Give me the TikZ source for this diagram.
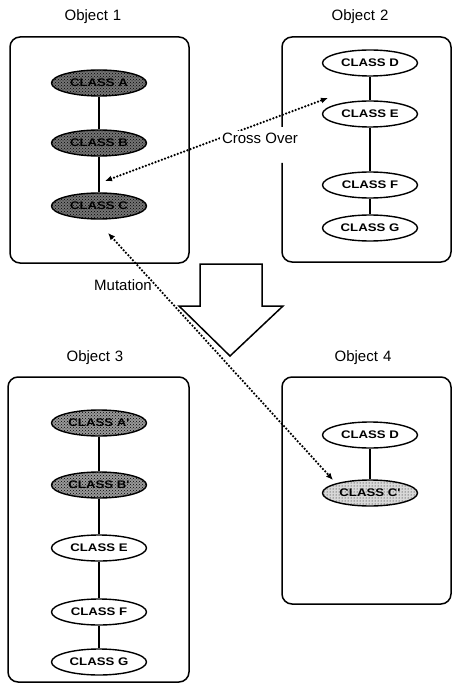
\documentclass[tikz,border=0pt]{standalone}
\usepackage{fontspec}
\setmainfont{Liberation Sans}
\newfontfamily\clsfont{Liberation Sans}[FakeStretch=1.2]
\usetikzlibrary{shapes.geometric,arrows.meta,patterns}
\tikzset{
  objbox/.style={line width=1.5pt, rounded corners=10pt},
  cls/.style={ellipse, draw, line width=1.4pt, minimum width=95pt, minimum height=26pt,
    inner sep=0pt, fill=white, font=\clsfont\bfseries\fontsize{11}{13}\selectfont},
  darkcls/.style={cls, preaction={fill=black!55}, pattern=crosshatch dots, pattern color=black},
  midcls/.style={cls, preaction={fill=black!40}, pattern=crosshatch dots, pattern color=black},
  lightcls/.style={cls, preaction={fill=black!15}, pattern=dots, pattern color=black},
  link/.style={line width=1.4pt},
  lab/.style={font=\fontsize{15}{17}\selectfont, inner sep=1pt},
  dotline/.style={line width=2.5pt, dash pattern=on 0pt off 3.4pt, line cap=round,
    {Latex[length=7pt,width=6pt]}-{Latex[length=7pt,width=6pt]}},
  bigarrow/.style={line width=1.5pt, fill=white, line join=miter}
}
\begin{document}
\begin{tikzpicture}[x=1pt,y=-1pt]
\useasboundingbox (0,0) rectangle (453,684);
% boxes
\draw[objbox] (10,37) rectangle (189,263);
\draw[objbox] (282,127) -- (282,37) -- (451,37) -- (451,262) -- (282,262) -- (282,163);
\draw[objbox] (8,377) rectangle (189,682);
\draw[objbox] (282,377) rectangle (451,604);
% titles
\node[lab] (t1) at (93,17) {Object\hspace{5pt}1};
\node[lab] (t2) at (360,17) {Object\hspace{5pt}2};
\node[lab] (t3) at (95,358) {Object\hspace{5pt}3};
\node[lab] (t4) at (363,358) {Object\hspace{5pt}4};
% object 1
\node[darkcls] (a1) at (99,83) {CLASS A};
\node[darkcls] (b1) at (99,143) {CLASS B};
\node[darkcls] (c1) at (99,206) {CLASS C};
\draw[link] (a1) -- (b1);
\draw[link] (b1) -- (c1);
% object 2
\node[cls] (d2) at (370,63) {CLASS D};
\node[cls] (e2) at (370,114) {CLASS E};
\node[cls] (f2) at (370,185) {CLASS F};
\node[cls] (g2) at (370,228) {CLASS G};
\draw[link] (d2) -- (e2);
\draw[link] (e2) -- (f2);
\draw[link] (f2) -- (g2);
% object 3
\node[midcls] (a3) at (99,423) {CLASS A'};
\node[midcls] (b3) at (99,485) {CLASS B'};
\node[cls] (e3) at (99,548) {CLASS E};
\node[cls] (f3) at (99,612) {CLASS F};
\node[cls] (g3) at (99,662) {CLASS G};
\draw[link] (a3) -- (b3);
\draw[link] (b3) -- (e3);
\draw[link] (e3) -- (f3);
\draw[link] (f3) -- (g3);
% object 4
\node[cls] (d4) at (370,435) {CLASS D};
\node[lightcls] (c4) at (370,493) {CLASS C'};
\draw[link] (d4) -- (c4);
% big arrow
\draw[bigarrow] (200,264) -- (262,264) -- (262,306) -- (283,306) -- (230,356) -- (179,306) -- (200,306) -- cycle;
% cross over
\coordinate (cxL) at (105,181);
\coordinate (cxR) at (328,98);
\draw[dotline] (cxL) -- (cxR);
\node[lab, fill=white, inner sep=2pt] (cross) at (260,138) {Cross Over};
% mutation
\coordinate (muA) at (108,233);
\coordinate (muB) at (333,480);
\draw[dotline] (muA) -- (muB);
\node[lab] (mut) at (123,285) {Mutation};
\end{tikzpicture}
\end{document}
